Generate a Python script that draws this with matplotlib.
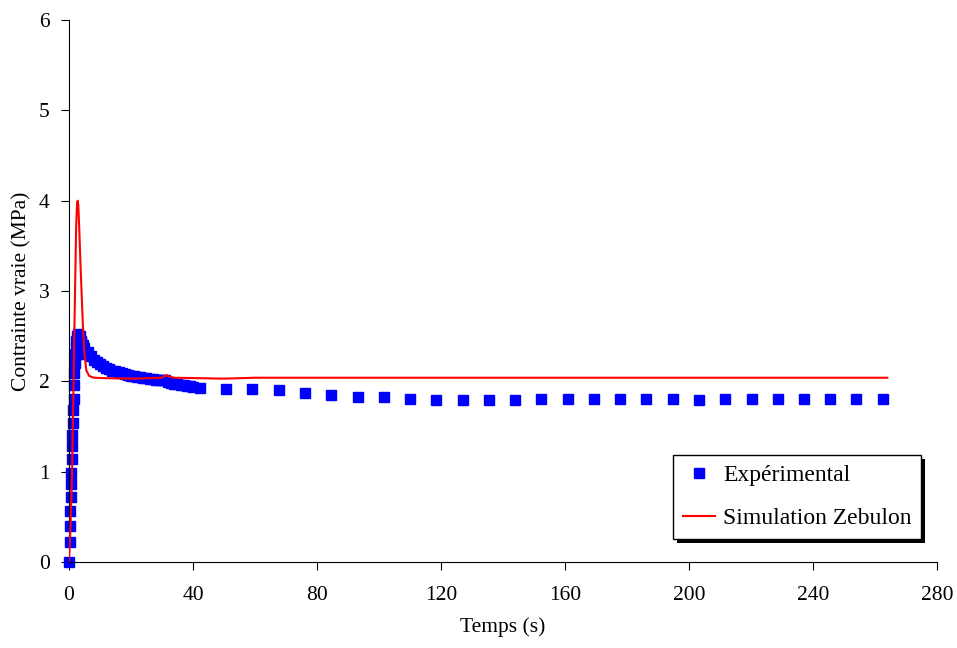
import numpy as np
import matplotlib
matplotlib.use('Agg')
import matplotlib.pyplot as plt
from matplotlib.patches import Rectangle

plt.rcParams['font.family'] = ['Liberation Serif', 'DejaVu Serif']

# experimental points (time in s, true stress in MPa)
exp_t = [0.0, 0.2, 0.3, 0.3, 0.5, 0.6, 0.8, 0.9, 1.0, 1.1, 1.3, 1.3, 1.5, 1.6, 1.7,
         1.9, 2.0, 2.1, 2.3, 2.5, 2.6, 2.8, 3.0, 3.2, 3.5, 3.8, 4.2,
         3.0, 3.5, 4.0, 4.5, 5, 6, 7, 8, 9, 10, 11, 12, 13, 14, 15, 16, 17, 18, 19,
         20, 21, 22, 23, 24, 25, 26, 27, 28, 29, 30, 31, 32, 33, 34, 35, 36, 37,
         38, 39, 40,
         42.3, 50.8, 59.2, 67.7, 76.2, 84.6, 93.1, 101.6, 110.0, 118.5, 127.0,
         135.5, 143.9, 152.4, 160.9, 169.3, 177.8, 186.3, 194.7, 203.2, 211.7,
         220.2, 228.6, 237.1, 245.6, 254.0, 262.5]
exp_s = [0.0, 0.22, 0.40, 0.56, 0.72, 0.86, 0.99, 1.14, 1.28, 1.41, 1.54, 1.68, 1.81, 1.96, 2.09,
         2.2, 2.3, 2.38, 2.45, 2.5, 2.3, 2.42, 2.35, 2.48, 2.3, 2.44, 2.33,
         2.52, 2.5, 2.45, 2.40, 2.37, 2.32, 2.28, 2.24, 2.21, 2.19, 2.17, 2.15, 2.14, 2.12, 2.11,
         2.10, 2.09, 2.08, 2.07, 2.06, 2.06, 2.05, 2.05, 2.04, 2.04, 2.03, 2.03, 2.02, 2.02,
         2.02, 2.01, 1.99, 1.98, 1.97, 1.97, 1.96, 1.96, 1.95, 1.95, 1.94,
         1.93, 1.91, 1.91, 1.90, 1.87, 1.85, 1.83, 1.83, 1.81, 1.79, 1.79,
         1.79, 1.79, 1.81, 1.81, 1.81, 1.80, 1.80, 1.80, 1.79, 1.81,
         1.80, 1.80, 1.81, 1.81, 1.80, 1.81]

# simulation curve
sim_t = [0.0, 0.5, 1.0, 1.4, 1.7, 2.0, 2.3, 2.6, 2.8, 3.0, 3.3, 3.7, 4.1, 4.5, 5.0,
         5.6, 6.5, 8, 12, 20, 30, 31.5, 32.5, 34, 50, 60, 264]
sim_s = [0.0, 0.4, 1.0, 1.8, 2.5, 3.1, 3.7, 3.97, 4.0, 3.95, 3.7, 3.3, 2.95, 2.6, 2.3,
         2.12, 2.06, 2.04, 2.035, 2.03, 2.04, 2.07, 2.05, 2.04, 2.03, 2.04, 2.04]

fig = plt.figure(figsize=(9.57, 6.48), dpi=100)
ax = fig.add_axes([0.0721, 0.1327, 0.9069, 0.8364])

ax.plot(exp_t, exp_s, linestyle='none', marker='s', markersize=7.5,
        color='#0000FF', label='Expérimental', zorder=2, clip_on=False)
ax.plot(sim_t, sim_s, color='#FF0000', linewidth=1.5,
        label='Simulation Zebulon', zorder=3)

ax.set_xlim(0, 280)
ax.set_ylim(0, 6)
ax.set_xticks(np.arange(0, 281, 40))
ax.set_yticks(np.arange(0, 7, 1))
ax.spines['top'].set_visible(False)
ax.spines['right'].set_visible(False)
ax.tick_params(direction='out', length=6, labelsize=15.5, pad=11)
ax.tick_params(axis='y', pad=8)
ax.set_xlabel('Temps (s)', fontsize=15.5, labelpad=9)
ax.set_ylabel('Contrainte vraie (MPa)', fontsize=15.5, labelpad=5)

leg = ax.legend(loc='upper left', bbox_to_anchor=(0.7032, 0.2978),
                bbox_transform=fig.transFigure, borderaxespad=0, fontsize=17,
                frameon=True, fancybox=False, shadow=False, handlelength=1.35,
                handletextpad=0.35, borderpad=0.42, labelspacing=0.9, framealpha=1)
leg.get_frame().set_edgecolor('black')
leg.get_frame().set_linewidth(1.0)
leg.set_zorder(6)

fig.canvas.draw()
bb = leg.get_frame().get_window_extent()
inv = fig.transFigure.inverted()
(x0, y0), (x1, y1) = inv.transform([[bb.x0, bb.y0], [bb.x1, bb.y1]])
dx, dy = 4 / fig.bbox.width, 4 / fig.bbox.height
shadow = Rectangle((x0 + dx, y0 - dy), x1 - x0, y1 - y0,
                   transform=fig.transFigure, facecolor='black',
                   edgecolor='none', zorder=5, clip_on=False)
ax.add_patch(shadow)

fig.savefig('out.png', dpi=100)
